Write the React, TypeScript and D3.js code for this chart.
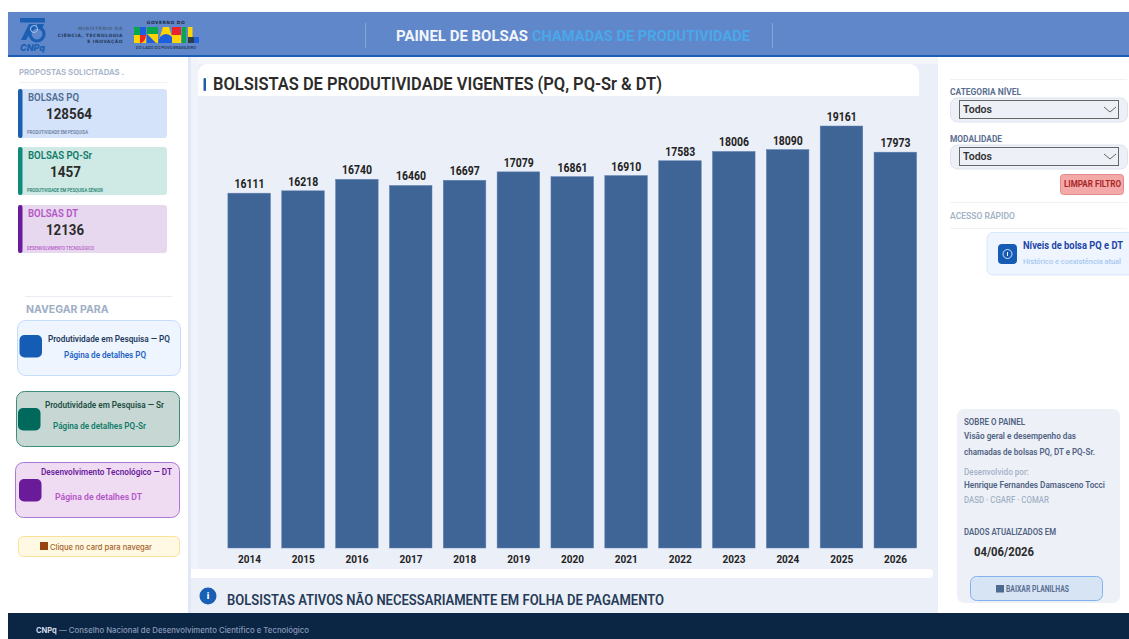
import React, { useEffect, useRef } from "react";
import * as d3 from "d3";

const years = ["2014","2015","2016","2017","2018","2019","2020","2021","2022","2023","2024","2025","2026"];
const bolsistas = [16111,16218,16740,16460,16697,17079,16861,16910,17583,18006,18090,19161,17973];
const kpiTitles = ["BOLSAS PQ","BOLSAS PQ-Sr","BOLSAS DT"];
const kpiValues = [128564,1457,12136];
const kpiSubs = ["PRODUTIVIDADE EM PESQUISA","PRODUTIVIDADE EM PESQUISA SÊNIOR","DESENVOLVIMENTO TECNOLÓGICO"];
const navTitles = ["Produtividade em Pesquisa — PQ","Produtividade em Pesquisa — Sr","Desenvolvimento Tecnológico — DT"];
const navLinks = ["Página de detalhes PQ","Página de detalhes PQ-Sr","Página de detalhes DT"];

const F = "Roboto, 'Noto Sans', sans-serif";
const I = "Inter, Roboto, sans-serif";

function T({x,y,s,w=500,c,a="start",f=F,len,children}:any){
  return <text x={x} y={y} fontSize={s} fontWeight={w} fill={c} textAnchor={a} fontFamily={f}
    {...(len?{textLength:len,lengthAdjust:"spacingAndGlyphs"}:{})}>{children}</text>;
}

function Select({y,label,lw}:any){
  return <g>
    <T x={950} y={y-4} s={9} w={700} c="#5a6f92" len={lw}>{label}</T>
    <rect x={950.5} y={y-1} width={177} height={24} rx={7} fill="#edf0f7" stroke="#dde3ee"/>
    <rect x={959.5} y={y+1.5} width={159} height={18} fill="#edf0f7" stroke="#666" strokeWidth={1}/>
    <T x={963} y={y+14} s={11} w={600} c="#333" len={29}>Todos</T>
    <path d={`M1104 ${y+8} l6 5 l6 -5`} fill="none" stroke="#555" strokeWidth={0.9}/>
  </g>;
}

export default function App(){
  const ref = useRef<SVGGElement>(null);
  useEffect(()=>{
    const x = d3.scaleBand().domain(years).range([222.5,922.5]).paddingInner(0.2).paddingOuter(0.1);
    const y = d3.scaleLinear().domain([0,19161]).range([548,126]);
    const g = d3.select(ref.current);
    g.selectAll("*").remove();
    const j = g.selectAll("g.b").data(years.map((yr,i)=>({yr,v:bolsistas[i]}))).join("g");
    j.append("rect").attr("x",d=>x(d.yr)!).attr("width",x.bandwidth()-0.5).attr("y",d=>y(d.v)).attr("height",d=>548-y(d.v))
      .attr("fill","#3f6496").attr("stroke","#5f82b3").attr("stroke-width",0.5);
    j.append("text").attr("x",d=>x(d.yr)!+x.bandwidth()/2).attr("y",d=>y(d.v)-5).attr("text-anchor","middle")
      .attr("font-family",F).attr("font-size",12).attr("font-weight",700).attr("fill","#222")
      .attr("textLength",30).attr("lengthAdjust","spacingAndGlyphs").text(d=>d.v);
    j.append("text").attr("x",d=>x(d.yr)!+x.bandwidth()/2).attr("y",563).attr("text-anchor","middle")
      .attr("font-family",F).attr("font-size",11).attr("font-weight",700).attr("fill","#222")
      .attr("textLength",23).attr("lengthAdjust","spacingAndGlyphs").text(d=>d.yr);
  },[]);

  const kpi = [
    {y:89,h:49,bg:"#d4e3f9",bar:"#1b5fae",tc:"#4f6a90",vx:46,sc:"#5f7599",sw:61,vw:46,tw:51},
    {y:147,h:48,bg:"#cfe9e5",bar:"#0f8a7a",tc:"#0f7a68",vx:50,sc:"#0f7a68",sw:76,vw:31,tw:64},
    {y:205,h:48,bg:"#e7d8ef",bar:"#6a1b9a",tc:"#b455c6",vx:46,sc:"#b455c6",sw:67,vw:38,tw:50},
  ];
  const nav = [
    {x:17,y:320,w:163,h:55,bg:"#eef5fe",st:"#c4dcf9",ic:"#155cb5",ix:19.5,iy:335,tc:"#1f3a5f",lc:"#1d63c4",tx:48,ty:342,tw:122,lx:64,ly:358,lw:82},
    {x:16,y:391,w:163,h:55,bg:"#c7d8d4",st:"#3f8c7c",ic:"#00695c",ix:18,iy:408,tc:"#1c4c42",lc:"#0f7a68",tx:45,ty:408,tw:119,lx:53,ly:429,lw:93},
    {x:15,y:462,w:164,h:55,bg:"#efdcf3",st:"#a678d8",ic:"#6a1b9a",ix:19,iy:479,tc:"#6a1b9a",lc:"#b455c6",tx:41,ty:475,tw:131,lx:55,ly:500,lw:87},
  ];

  return <svg width={1129} height={639} style={{position:"absolute",left:0,top:0,display:"block"}}>
    <rect width={1129} height={639} fill="#fff"/>
    {/* main background */}
    <rect x={188} y={57} width={750} height={556} fill="#ebeff7"/>
    <rect x={191} y={57} width={747} height={7} fill="#f3f5fa"/>
    <rect x={191} y={57} width={7} height={512} fill="#f0f3f9"/>
    <rect x={198} y={64} width={721} height={40} rx={9} fill="#fff"/>
    <rect x={198} y={96} width={734} height={473} fill="#ebeff7"/>
    <rect x={188} y={569} width={745} height={9} rx={4} fill="#fff"/>
    {/* header */}
    <rect x={8} y={12} width={1121} height={44} fill="#5f87c9"/>
    <rect x={8} y={55} width={1121} height={2} fill="#1a5fb4"/>
    <g fill="#1a5fb4">
      <rect x={20} y={18} width={25} height={4.5}/>
      <path d="M29 24 h7 l-10 16 h-5z"/>
      <path d="M37 24 h7 l-2 5 h-5z"/>
      <circle cx={37} cy={34} r={7} fill="none" stroke="#1a5fb4" strokeWidth={3.2}/>
      <circle cx={34} cy={29} r={3.5} fill="none" stroke="#a9c4e8" strokeWidth={1}/>
    </g>
    <text x={20} y={50.5} fontFamily={I} fontStyle="italic" fontWeight={800} fontSize={9} fill="#1a5fb4">CNPq</text>
    <g fontFamily="'DejaVu Sans',sans-serif" fontWeight={700} fontSize={4.4} textAnchor="end" letterSpacing={0.55}>
      <text x={123} y={30} fill="#4a6285">MINISTÉRIO DA</text>
      <text x={123} y={37} fill="#253a5c">CIÊNCIA, TECNOLOGIA</text>
      <text x={123} y={43} fill="#253a5c">E INOVAÇÃO</text>
    </g>
    <text x={166} y={23.5} textAnchor="middle" fontFamily="'DejaVu Sans',sans-serif" fontWeight={700} fontSize={4.4} letterSpacing={0.5} fill="#1c2a44">GOVERNO DO</text>
    <g>
      <rect x={134} y={27} width={12} height={16} fill="#ffd400"/>
      <rect x={134} y={27} width={6} height={8} fill="#0aa64a"/>
      <rect x={140} y={27} width={6} height={8} fill="#1c5fe0"/>
      <path d="M140 43 a6 8 0 0 0 6 -8 h-6z" fill="#e8262a"/>
      <rect x={147} y={27} width={11} height={16} fill="#ffd400"/>
      <rect x={147} y={27} width={11} height={7} fill="#0aa64a"/>
      <path d="M147 43 v-9 l9 9z" fill="#1c5fe0"/>
      <path d="M158 43 l5 -16 h6 l5 16z" fill="#ffd400"/>
      <path d="M158 43 a8 9 0 0 1 16 0z" fill="#1c5fe0"/>
      <rect x={172} y={27} width={9} height={8} fill="#e8262a"/>
      <rect x={172} y={35} width={9} height={8} fill="#ffd400"/>
      <rect x={182} y={27} width={4} height={16} fill="#0aa64a"/>
      <rect x={188} y={27} width={4.5} height={16} fill="#ffd400"/>
      <rect x={188} y={37} width={6} height={6} fill="#2e3c44"/>
      <rect x={194} y={37} width={5} height={6} fill="#1c5fe0"/>
    </g>
    <T x={166} y={49} s={4} w={600} c="#253a5c" a="middle" f={I} len={60}>DO LADO DO POVO BRASILEIRO</T>
    <rect x={365} y={23} width={1} height={25} fill="#86a5d6"/>
    <rect x={772} y={23} width={1} height={25} fill="#86a5d6"/>
    <T x={396} y={41} s={15} w={700} c="#f2f6fc" len={132}>PAINEL DE BOLSAS</T>
    <T x={532} y={41} s={15} w={700} c="#4aa8ea" len={218}>CHAMADAS DE PRODUTIVIDADE</T>
    {/* left sidebar */}
    <rect x={188} y={57} width={3} height={556} fill="#e2e8f4"/>
    <T x={19} y={75} s={8} w={600} c="#a4b2c8" f={I} len={105}>PROPOSTAS SOLICITADAS .</T>
    <rect x={19} y={82} width={148} height={1} fill="#eef1f6"/>
    {kpi.map((k,i)=><g key={i}>
      <rect x={18} y={k.y} width={149} height={k.h} rx={3} fill={k.bg}/>
      <rect x={18} y={k.y} width={4.5} height={k.h} rx={2} fill={k.bar}/>
      <T x={28} y={k.y+12} s={11} w={600} c={k.tc} len={k.tw}>{kpiTitles[i]}</T>
      <T x={k.vx} y={k.y+30} s={15.5} w={700} c="#2c2c2c" len={k.vw}>{kpiValues[i]}</T>
      <T x={27} y={k.y+45} s={4.5} w={500} c={k.sc} len={k.sw}>{kpiSubs[i]}</T>
    </g>)}
    <rect x={25} y={296} width={147} height={1} fill="#e8ecf3"/>
    <T x={26} y={313} s={10.5} w={700} c="#a0aec4" f={I}>NAVEGAR PARA</T>
    {nav.map((n,i)=><g key={i}>
      <rect x={n.x+0.5} y={n.y+0.5} width={n.w} height={n.h} rx={8} fill={n.bg} stroke={n.st}/>
      <rect x={n.ix} y={n.iy} width={22.5} height={22.5} rx={5} fill={n.ic}/>
      <T x={n.tx} y={n.ty} s={9} w={600} c={n.tc} len={n.tw}>{navTitles[i]}</T>
      <T x={n.lx} y={n.ly} s={9} w={600} c={n.lc} len={n.lw}>{navLinks[i]}</T>
    </g>)}
    <rect x={18.5} y={536.5} width={161} height={20} rx={5} fill="#fff8e3" stroke="#fbe196"/>
    <rect x={40} y={542} width={8} height={8} fill="#95450f"/>
    <T x={50} y={550} s={7.5} w={500} c="#a6652c" f={I} len={102}>Clique no card para navegar</T>
    {/* chart title */}
    <rect x={203.5} y={78} width={2.5} height={13} rx={1} fill="#1a5fb4"/>
    <T x={213} y={90} s={17.5} w={600} c="#2c2c2c" len={449}>BOLSISTAS DE PRODUTIVIDADE VIGENTES (PQ, PQ-Sr &amp; DT)</T>
    <g ref={ref}/>
    {/* info strip */}
    <circle cx={208} cy={596} r={8.5} fill="#1a5fb4"/>
    <T x={208} y={599} s={9} w={800} c="#fff" a="middle" f={I}>i</T>
    <T x={227} y={605} s={15} w={600} c="#263b57" len={437}>BOLSISTAS ATIVOS NÃO NECESSARIAMENTE EM FOLHA DE PAGAMENTO</T>
    {/* right sidebar */}
    <rect x={950} y={79} width={177} height={1} fill="#eef1f6"/>
    <Select y={99} label="CATEGORIA NÍVEL" lw={71}/>
    <Select y={146} label="MODALIDADE" lw={52}/>
    <rect x={1060.5} y={174.5} width={63} height={20} rx={3} fill="#f4a9a9" stroke="#e58a8a"/>
    <T x={1064} y={187} s={8.5} w={700} c="#a82626" f={F} len={57}>LIMPAR FILTRO</T>
    <rect x={950} y={202} width={177} height={1} fill="#eef1f6"/>
    <T x={950} y={219} s={9} w={600} c="#a4b2c8" len={65}>ACESSO RÁPIDO</T>
    <rect x={950} y={228} width={177} height={1} fill="#eef1f6"/>
    <path d="M1129 232.5 H993 a6 6 0 0 0 -6 6 V269 a6 6 0 0 0 6 6 H1129" fill="#eef5fe" stroke="#d9e8fb"/>
    <rect x={998} y={244} width={19} height={20} rx={4} fill="#155cb5"/>
    <circle cx={1007.5} cy={254} r={4.5} fill="none" stroke="#fff" strokeWidth={0.8}/>
    <rect x={1007} y={252} width={1} height={4} fill="#fff"/>
    <T x={1023} y={249} s={10} w={700} c="#1f45a8" len={100}>Níveis de bolsa PQ e DT</T>
    <T x={1023} y={264} s={7} w={500} c="#a7c8f2" len={98}>Histórico e coexistência atual</T>
    {/* about card */}
    <rect x={957} y={409} width={163} height={194} rx={7} fill="#edf0f7"/>
    <T x={964} y={425} s={9} w={600} c="#4f6282" len={61}>SOBRE O PAINEL</T>
    <T x={964} y={439} s={9} w={600} c="#4f6282" len={112}>Visão geral e desempenho das</T>
    <T x={964} y={455} s={9} w={600} c="#4f6282" len={131}>chamadas de bolsas PQ, DT e PQ-Sr.</T>
    <T x={964} y={475} s={9} w={500} c="#a4b2c8" len={65}>Desenvolvido por:</T>
    <T x={964} y={488} s={9} w={600} c="#4f6282" len={141}>Henrique Fernandes Damasceno Tocci</T>
    <T x={964} y={503} s={9} w={500} c="#a4b2c8" len={85}>DASD · CGARF · COMAR</T>
    <T x={964} y={535} s={9} w={600} c="#4f6282" len={92}>DADOS ATUALIZADOS EM</T>
    <T x={974} y={556} s={12} w={700} c="#2c2c2c" len={60}>04/06/2026</T>
    <rect x={970.5} y={576.5} width={132} height={24} rx={6} fill="#d7e4f4" stroke="#7fb2ef"/>
    <rect x={996} y={585} width={8} height={7.5} fill="#4f6a90"/>
    <T x={1006} y={592} s={8.5} w={700} c="#5a6f92" len={63}>BAIXAR PLANILHAS</T>
    {/* footer */}
    <rect x={8} y={613} width={1121} height={26} fill="#0b2545"/>
    <T x={36} y={633} s={7.5} w={700} c="#d5dce8" f={I}>CNPq</T>
    <T x={59} y={633} s={7.5} w={500} c="#8a9ab5" f={I} len={250}>— Conselho Nacional de Desenvolvimento Científico e Tecnológico</T>
  </svg>;
}
